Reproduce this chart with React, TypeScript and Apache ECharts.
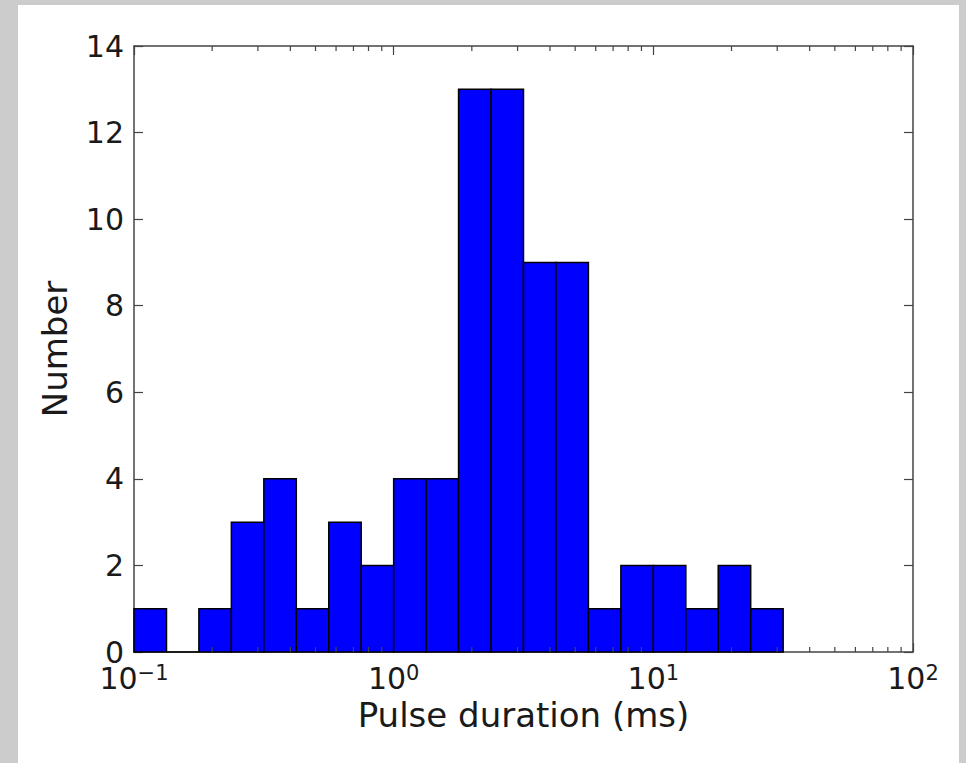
import React, { useEffect, useRef } from "react";
import * as echarts from "echarts";

const binEdges = [
  0.1, 0.1334, 0.1778, 0.2371, 0.3162, 0.4217, 0.5623, 0.7499, 1, 1.334,
  1.778, 2.371, 3.162, 4.217, 5.623, 7.499, 10, 13.34, 17.78, 23.71, 31.62,
];
const counts = [1, 0, 1, 3, 4, 1, 3, 2, 4, 4, 13, 13, 9, 9, 1, 2, 2, 1, 2, 1];
const minorTicks = [
  0.2, 0.3, 0.4, 0.5, 0.6, 0.7, 0.8, 0.9, 2, 3, 4, 5, 6, 7, 8, 9, 20, 30, 40,
  50, 60, 70, 80, 90,
];
const xLabel = "Pulse duration (ms)";
const yLabel = "Number";

const FONT = "DejaVu Sans";

export default function App() {
  const ref = useRef<HTMLDivElement>(null);
  useEffect(() => {
    if (!ref.current) return;
    const chart = echarts.init(ref.current, null, { renderer: "svg" });
    const barData = counts.map((c, i) => [binEdges[i], binEdges[i + 1], c]);
    const spine = { show: true, lineStyle: { color: "#444444", width: 1.5 } };
    const tickStyle = { color: "#444444", width: 1.2 };
    const logLabel = (v: number) => {
      const e = Math.round(Math.log10(v));
      return `{b|10}{s|${e < 0 ? "\u2212" + -e : e}}`;
    };
    chart.setOption({
      animation: false,
      backgroundColor: "#ffffff",
      grid: { left: 116, top: 41, right: 46, bottom: 111, containLabel: false },
      xAxis: [
        {
          type: "log",
          logBase: 10,
          min: 0.1,
          max: 100,
          position: "bottom",
          name: xLabel,
          nameLocation: "middle",
          nameGap: 44,
          nameTextStyle: { fontFamily: FONT, fontSize: 34, color: "#1a1a1a" },
          axisLine: { ...spine, onZero: false },
          axisTick: { show: true, inside: true, length: 9, lineStyle: tickStyle },
          splitLine: { show: false },
          axisLabel: {
            formatter: logLabel,
            margin: 10,
            rich: {
              b: { fontFamily: FONT, fontSize: 30, color: "#1a1a1a", lineHeight: 32, verticalAlign: "middle" },
              s: { fontFamily: FONT, fontSize: 21, color: "#1a1a1a", lineHeight: 20, verticalAlign: "top" },
            },
          },
        },
        {
          type: "log",
          logBase: 10,
          min: 0.1,
          max: 100,
          position: "top",
          axisLine: { ...spine, onZero: false },
          axisTick: { show: true, inside: true, length: 9, lineStyle: tickStyle },
          axisLabel: { show: false },
          splitLine: { show: false },
        },
      ],
      yAxis: [
        {
          type: "value",
          min: 0,
          max: 14,
          interval: 2,
          position: "left",
          name: yLabel,
          nameLocation: "middle",
          nameGap: 62,
          nameTextStyle: { fontFamily: FONT, fontSize: 34, color: "#1a1a1a" },
          axisLine: spine,
          axisTick: { show: true, inside: true, length: 9, lineStyle: tickStyle },
          splitLine: { show: false },
          axisLabel: { fontFamily: FONT, fontSize: 30, lineHeight: 26, color: "#1a1a1a", margin: 10 },
        },
        {
          type: "value",
          min: 0,
          max: 14,
          interval: 2,
          position: "right",
          axisLine: spine,
          axisTick: { show: true, inside: true, length: 9, lineStyle: tickStyle },
          splitLine: { show: false },
          axisLabel: { show: false },
        },
      ],
      series: [
        {
          type: "custom",
          xAxisIndex: 0,
          yAxisIndex: 0,
          data: barData,
          encode: { x: [0, 1], y: 2 },
          renderItem: (params: any, api: any) => {
            const lo = api.value(0);
            const hi = api.value(1);
            const c = api.value(2);
            const p0 = api.coord([lo, c]);
            const p1 = api.coord([hi, 0]);
            return {
              type: "rect",
              shape: { x: p0[0], y: p0[1], width: p1[0] - p0[0], height: p1[1] - p0[1] },
              style: { fill: "#0000ff", stroke: "#000000", lineWidth: 1.5 },
            };
          },
          z: 1,
        },
        {
          type: "custom",
          xAxisIndex: 0,
          yAxisIndex: 0,
          data: minorTicks.map((v) => [v]),
          encode: { x: 0 },
          renderItem: (params: any, api: any) => {
            const v = api.value(0);
            const b = api.coord([v, 0]);
            const t = api.coord([v, 14]);
            const st = { stroke: "#444444", lineWidth: 1.2 };
            return {
              type: "group",
              children: [
                { type: "line", shape: { x1: b[0], y1: b[1], x2: b[0], y2: b[1] - 5 }, style: st },
                { type: "line", shape: { x1: t[0], y1: t[1], x2: t[0], y2: t[1] + 5 }, style: st },
              ],
            };
          },
          z: 3,
        },
      ],
    });
    return () => chart.dispose();
  }, []);
  return (
    <div style={{ position: "fixed", left: 0, top: 0, width: 966, height: 763, background: "#cccccc" }}>
      <div ref={ref} style={{ position: "absolute", left: 18, top: 5, width: 941, height: 758 }} />
    </div>
  );
}
